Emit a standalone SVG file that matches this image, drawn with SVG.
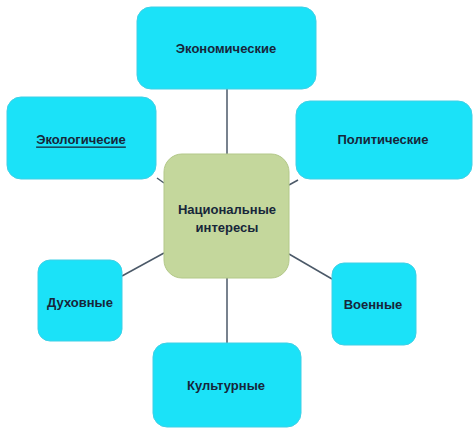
<svg xmlns="http://www.w3.org/2000/svg" width="474" height="433" viewBox="0 0 474 433">
<style>
.box{fill:#1be2f8;stroke:#3fd0e6;stroke-width:1}
.ctr{fill:#c4d79c;stroke:#b3c889;stroke-width:1}
.t{font-family:"Liberation Sans",Arial,sans-serif;font-size:13px;font-weight:bold;fill:#17263a;text-anchor:middle;dominant-baseline:central}
.c line{stroke:#4b5968;stroke-width:1.5}
</style>
<rect width="474" height="433" fill="#ffffff"/>
<g class="c">
<line x1="227" y1="89" x2="227" y2="154"/>
<line x1="227" y1="278" x2="227" y2="343"/>
<line x1="157" y1="178" x2="164" y2="183"/>
<line x1="289" y1="185" x2="298" y2="180"/>
<line x1="122" y1="276" x2="164" y2="253"/>
<line x1="289" y1="254" x2="332" y2="279"/>
</g>
<g id="economic"><rect class="box" x="137" y="7" width="179" height="82" rx="14"/><text class="t" x="226" y="48">Экономические</text></g>
<g id="ecological"><rect class="box" x="7" y="97" width="149" height="82" rx="14"/><text class="t" x="81" y="139" text-decoration="underline">Экологичесие</text></g>
<g id="political"><rect class="box" x="296" y="101" width="176" height="78" rx="14"/><text class="t" x="383" y="139">Политические</text></g>
<g id="national"><rect class="ctr" x="164" y="154" width="125" height="124" rx="18"/><text class="t" x="227" y="209">Национальные</text><text class="t" x="227" y="227">интересы</text></g>
<g id="spiritual"><rect class="box" x="38" y="260" width="84" height="81" rx="12"/><text class="t" x="80" y="302">Духовные</text></g>
<g id="military"><rect class="box" x="332" y="263" width="84" height="82" rx="12"/><text class="t" x="373" y="304">Военные</text></g>
<g id="cultural"><rect class="box" x="153" y="343" width="148" height="84" rx="14"/><text class="t" x="226" y="385">Культурные</text></g>
</svg>
